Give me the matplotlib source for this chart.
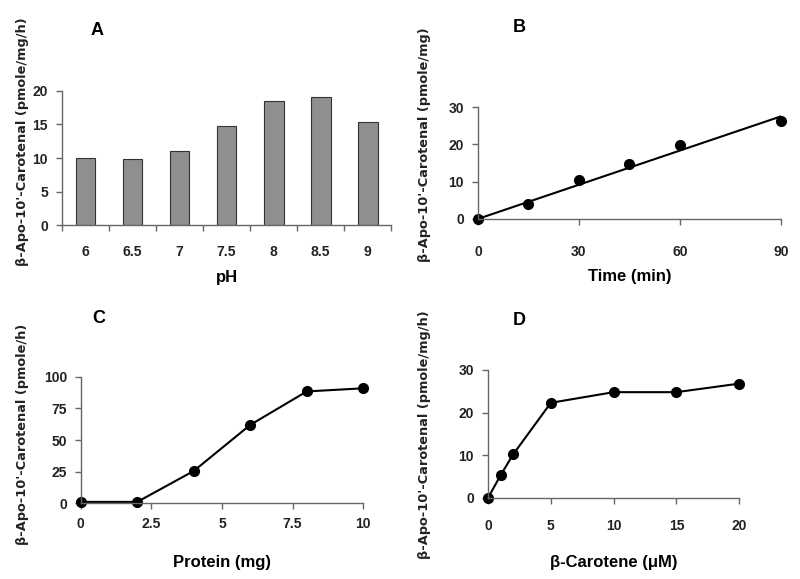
import numpy as np
import matplotlib
matplotlib.use("Agg")
import matplotlib.pyplot as plt

plt.rcParams['font.family'] = ['Liberation Sans', 'DejaVu Sans']

# panel A: pH
ph_labels = ['6', '6.5', '7', '7.5', '8', '8.5', '9']
ph_values = [10.0, 9.8, 11.0, 14.8, 18.5, 19.1, 15.3]

# panel B: time course
time_min = [0, 15, 30, 45, 60, 90]
time_values = [0.0, 4.0, 10.3, 14.8, 19.8, 26.2]
fit_x = [0, 90]
fit_y = [0.0, 27.5]

# panel C: protein
protein_mg = [0, 2, 4, 6, 8, 10]
protein_values = [1.0, 1.0, 25.5, 62.0, 88.5, 91.0]

# panel D: substrate
carotene_um = [0, 1, 2, 5, 10, 15, 20]
carotene_values = [0.0, 5.3, 10.2, 22.3, 24.8, 24.8, 26.8]

ylab_mgh = "β-Apo-10'-Carotenal (pmole/mg/h)"
ylab_mg = "β-Apo-10'-Carotenal (pmole/mg)"
ylab_h = "β-Apo-10'-Carotenal (pmole/h)"

fig = plt.figure(figsize=(8, 5.79), dpi=100)

def style(ax, xpad=6):
    for s in ['top', 'right']:
        ax.spines[s].set_visible(False)
    for s in ['left', 'bottom']:
        ax.spines[s].set_color('#666666')
        ax.spines[s].set_linewidth(1.0)
    ax.tick_params(direction='out', length=4, width=1, color='#666666',
                   labelsize=10, pad=6)
    ax.tick_params(axis='x', pad=xpad)
    for t in ax.get_xticklabels() + ax.get_yticklabels():
        t.set_fontweight('bold')
        t.set_color('#222222')

def ylab(x, y, s):
    # wide bold font, like the original
    fig.text(x, y, s, rotation=90, ha='center', va='center', fontsize=9.3,
             fontweight='bold', family='DejaVu Sans', color='#222222')

# A
axA = fig.add_axes([0.0775, 0.611, 0.4115, 0.232])
pos = np.arange(len(ph_values))
axA.bar(pos, ph_values, width=0.42, color='#8f8f8f', edgecolor='#333333', linewidth=0.8)
axA.set_xlim(-0.5, 6.5)
axA.set_ylim(0, 20)
axA.set_yticks([0, 5, 10, 15, 20])
axA.set_xticks(np.arange(-0.5, 7, 1))
axA.set_xticklabels([])
axA.set_xticks(pos, minor=True)
axA.set_xticklabels(ph_labels, minor=True)
axA.tick_params(axis='x', which='minor', length=0, pad=14)
style(axA)
for t in axA.get_xticklabels(minor=True):
    t.set_fontweight('bold'); t.set_fontsize(10); t.set_color('#222222')
axA.set_xlabel('pH', fontsize=12, fontweight='bold', labelpad=8)
ylab(0.028, 0.755, ylab_mgh)
fig.text(0.121, 0.948, 'A', fontsize=13, fontweight='bold', ha='center', va='center')

# B
axB = fig.add_axes([0.5975, 0.622, 0.3785, 0.193])
axB.plot(fit_x, fit_y, color='black', linewidth=1.5)
axB.plot(time_min, time_values, 'o', color='black', markersize=7, clip_on=False)
axB.set_xlim(0, 90)
axB.set_ylim(0, 30)
axB.set_xticks([0, 30, 60, 90])
axB.set_yticks([0, 10, 20, 30])
style(axB, xpad=15)
axB.set_xlabel('Time (min)', fontsize=12, fontweight='bold', labelpad=7)
ylab(0.531, 0.75, ylab_mg)
fig.text(0.649, 0.952, 'B', fontsize=13, fontweight='bold', ha='center', va='center')

# C
axC = fig.add_axes([0.101, 0.131, 0.353, 0.218])
axC.plot(protein_mg, protein_values, '-o', color='black', linewidth=1.5, markersize=7, clip_on=False)
axC.set_xlim(0, 10)
axC.set_ylim(0, 100)
axC.set_xticks([0, 2.5, 5, 7.5, 10])
axC.set_xticklabels(['0', '2.5', '5', '7.5', '10'])
axC.set_yticks([0, 25, 50, 75, 100])
style(axC)
axC.set_xlabel('Protein (mg)', fontsize=12, fontweight='bold', labelpad=17)
ylab(0.028, 0.249, ylab_h)
fig.text(0.124, 0.45, 'C', fontsize=13, fontweight='bold', ha='center', va='center')

# D
axD = fig.add_axes([0.61, 0.140, 0.314, 0.221])
axD.plot(carotene_um, carotene_values, '-o', color='black', linewidth=1.5, markersize=7, clip_on=False)
axD.set_xlim(0, 20)
axD.set_ylim(0, 30)
axD.set_xticks([0, 5, 10, 15, 20])
axD.set_yticks([0, 10, 20, 30])
style(axD, xpad=11)
axD.set_xlabel('β-Carotene (μM)', fontsize=12, fontweight='bold', labelpad=16)
ylab(0.531, 0.25, ylab_mgh)
fig.text(0.649, 0.447, 'D', fontsize=13, fontweight='bold', ha='center', va='center')

fig.savefig('out.png', dpi=100)
